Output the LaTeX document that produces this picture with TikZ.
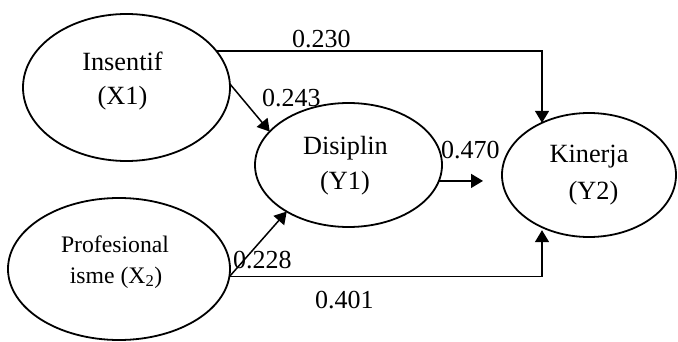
\documentclass[tikz,border=0pt]{standalone}
\usepackage{fontspec}
\setmainfont{Liberation Serif}
\usetikzlibrary{shapes.geometric,arrows.meta}
\tikzset{
  latent/.style={draw, ellipse, line width=1.8pt, inner sep=0pt, outer sep=0pt},
  conn/.style={line width=1.5pt, -{Triangle[length=12pt,width=14pt]}},
  lbl/.style={inner sep=0pt, anchor=base, font=\fontsize{26.3}{30}\selectfont},
  smlbl/.style={inner sep=0pt, anchor=base, font=\fontsize{23.7}{28}\selectfont},
  coef/.style={inner sep=0pt, anchor=base west, font=\fontsize{26}{30}\selectfont}
}
\begin{document}
\begin{tikzpicture}[x=1pt,y=-1pt]
\useasboundingbox[fill=white] (0,0) rectangle (678,342);
% latent variables
\node[latent, minimum width=207pt, minimum height=147pt] (ins) at (126.5,87.5) {};
\node[latent, minimum width=187pt, minimum height=124pt] (dis) at (348.5,165) {};
\node[latent, minimum width=174pt, minimum height=124pt] (kin) at (589,175) {};
\node[latent, minimum width=222pt, minimum height=142pt] (pro) at (119,269) {};
% texts
\node[lbl] (t1a) at (122.5,71) {Insentif};
\node[lbl] (t1b) at (122.5,105) {(X1)};
\node[lbl] (t2a) at (345.5,155) {Disiplin};
\node[lbl] (t2b) at (345,190) {(Y1)};
\node[lbl] (t3a) at (589,163) {Kinerja};
\node[lbl] (t3b) at (593.5,200) {(Y2)};
\node[smlbl] (t4a) at (115,252) {Profesional};
\node[smlbl] (t4b) at (116,283) {isme (X\textsubscript{2})};
% connectors
\coordinate (dk) at (483,183);
\draw[conn] (ins.22.6) -| (kin.132.9);
\draw[conn] (ins.2) -- (dis.157.7);
\draw[conn] (pro.-4.7) -- (dis.-143.5);
\draw[conn, shorten >=3pt] (pro.-4.7) -| (kin.-132.9);
\draw[conn] (dis.-10.9) -- (dis.-10.9 -| dk);
% coefficients
\node[coef] (c1) at (292,48) {0.230};
\node[coef] (c2) at (262,107) {0.243};
\node[coef] (c3) at (441,159) {0.470};
\node[coef] (c4) at (233,268) {0.228};
\node[coef] (c5) at (315,308) {0.401};
\end{tikzpicture}
\end{document}
